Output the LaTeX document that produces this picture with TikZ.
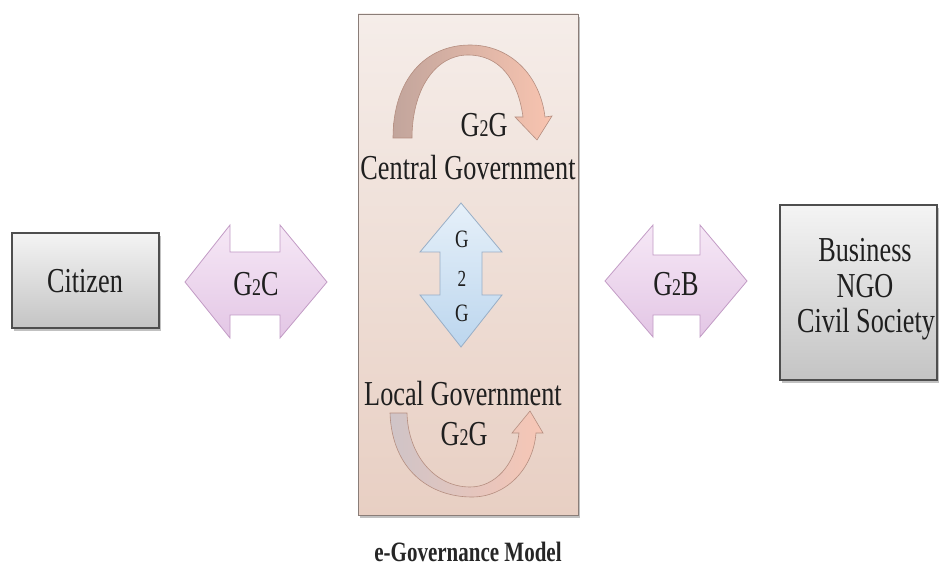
\documentclass[tikz,border=0pt]{standalone}
\usepackage{fontspec}
\usepackage{graphicx}
\setmainfont{Liberation Serif}[FakeStretch=0.75]
\usetikzlibrary{shadows}
\definecolor{boxtop}{HTML}{F5EDE9}
\definecolor{boxbot}{HTML}{E8CFC3}
\definecolor{boxline}{HTML}{8A7D78}
\definecolor{graytop}{HTML}{F4F4F4}
\definecolor{graybot}{HTML}{C4C4C4}
\definecolor{grayline}{HTML}{4E4E4E}
\definecolor{lavtop}{HTML}{F6E8F6}
\definecolor{lavbot}{HTML}{E3C6E5}
\definecolor{lavline}{HTML}{C29BC5}
\definecolor{bluetop}{HTML}{E6F0F9}
\definecolor{bluebot}{HTML}{BCD6EE}
\definecolor{blueline}{HTML}{98AEC6}
\definecolor{arcleft}{HTML}{C2A59C}
\definecolor{arcright}{HTML}{F8C4B0}
\definecolor{arcleftb}{HTML}{CFC4C7}
\definecolor{arcrightb}{HTML}{F7C6B5}
\definecolor{arcline}{HTML}{B58E80}
\newcommand\lowtwo{{\fontsize{24}{24}\selectfont 2}}
\tikzset{
  shadowed/.style={drop shadow={shadow xshift=2pt, shadow yshift=-3pt, opacity=0.35, fill=black!70}},
  graybox/.style={draw=grayline, line width=1.4pt, top color=graytop, bottom color=graybot, shadowed},
  govbox/.style={draw=boxline, line width=0.9pt, top color=boxtop, bottom color=boxbot, shadowed},
  lavarrow/.style={draw=lavline, line width=0.8pt, top color=lavtop, bottom color=lavbot},
  bluearrow/.style={draw=blueline, line width=0.8pt, top color=bluetop, bottom color=bluebot},
  arcarrow/.style={draw=arcline, line width=0.6pt, left color=arcleft, right color=arcright},
  arcarrowb/.style={draw=arcline, line width=0.6pt, left color=arcleftb, right color=arcrightb},
  lbl/.style={font=\fontsize{35}{36}\selectfont, inner sep=0pt, anchor=base, text=black!88},
  smalllbl/.style={font=\fontsize{25}{26}\selectfont, inner sep=0pt, anchor=base, text=black!88},
}
\begin{document}
\begin{tikzpicture}[x=1pt,y=1pt]
\useasboundingbox (0,0) rectangle (940,-569);
% boxes
\draw[govbox] (358,-14) rectangle (578,-515);
\draw[graybox] (12,-233) rectangle (159,-328);
\draw[graybox] (780,-205) rectangle (937,-380);
% horizontal double arrows
\draw[lavarrow] (185,-282) -- (230,-225) -- (230,-252) -- (280,-252) -- (280,-225) -- (327,-282)
  -- (280,-338) -- (280,-315) -- (230,-315) -- (230,-338) -- cycle;
\draw[lavarrow] (605,-281) -- (653,-225) -- (653,-255) -- (700,-255) -- (700,-225) -- (747,-281)
  -- (700,-337) -- (700,-315) -- (653,-315) -- (653,-337) -- cycle;
% vertical double arrow
\draw[bluearrow] (461,-203) -- (502,-252) -- (482,-252) -- (482,-295) -- (502,-295) -- (461,-347)
  -- (420,-295) -- (440,-295) -- (440,-252) -- (420,-252) -- cycle;
% curved arrows
\draw[arcarrow] (393,-138) .. controls (393,-80) and (425,-45) .. (470,-45)
  .. controls (510,-45) and (540,-75) .. (545,-117) -- (552,-116) -- (537,-140) -- (515,-117) -- (523,-117)
  .. controls (518,-80) and (500,-55) .. (468,-55)
  .. controls (435,-55) and (412,-90) .. (412,-138) -- cycle;
\draw[arcarrowb] (390,-413) .. controls (392,-470) and (430,-497) .. (472,-497)
  .. controls (505,-497) and (533,-470) .. (536,-433) -- (543,-433) -- (530,-411) -- (512,-433) -- (519,-433)
  .. controls (515,-465) and (495,-487) .. (470,-487)
  .. controls (435,-487) and (408,-455) .. (407,-413) -- cycle;
% labels
\node[lbl] (citizen) at (85,-293) {Citizen};
\node[lbl] (g2c) at (256,-296) {G\lowtwo C};
\node[lbl] (g2b) at (676,-296) {G\lowtwo B};
\node[lbl] (business) at (865,-262) {Business};
\node[lbl] (ngo) at (865,-298) {NGO};
\node[lbl] (civil) at (866,-333) {Civil Society};
\node[lbl] (central) at (468,-180) {Central Government};
\node[lbl] (g2gtop) at (484,-137) {G\lowtwo G};
\node[lbl] (local) at (463,-405) {Local Government};
\node[lbl] (g2gbot) at (464,-445) {G\lowtwo G};
\node[smalllbl] (vg1) at (462,-248) {G};
\node[smalllbl, font=\fontsize{23}{24}\selectfont] (v2) at (462,-287) {2};
\node[smalllbl] (vg2) at (462,-322) {G};
\node[inner sep=0pt, anchor=base, font=\fontsize{28}{29}\selectfont\bfseries, text=black!85] (caption) at (468,-561) {e-Governance Model};
\end{tikzpicture}
\end{document}
